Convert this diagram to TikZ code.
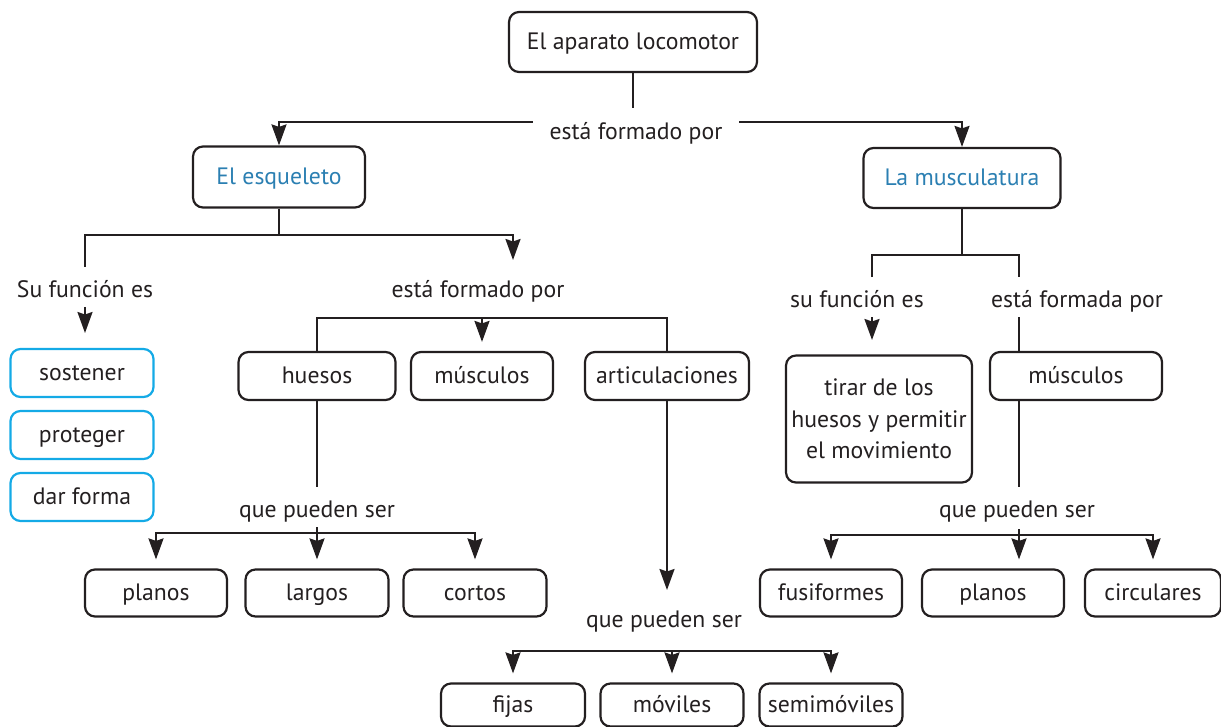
\documentclass[tikz,border=0pt]{standalone}
\usepackage{fontspec}
\setmainfont{PT Sans}
\usetikzlibrary{arrows.meta}

\definecolor{ink}{RGB}{35,31,32}
\definecolor{titleblue}{RGB}{43,127,178}
\definecolor{cyanline}{RGB}{20,170,230}

\begin{document}
\begin{tikzpicture}[x=0.02cm, y=-0.02cm,
    every node/.style={font=\fontsize{13.5}{16}\selectfont, text=ink},
    frame/.style={draw=ink, line width=1.25pt, rounded corners=0.2cm, inner sep=0pt},
    box/.style={frame, minimum height=0.96cm, text height=0.98em, text depth=0.12em},
    cbox/.style={box, draw=cyanline, minimum width=2.86cm},
    lbl/.style={inner xsep=9pt, inner ysep=3pt, text height=0.92em, text depth=0.16em},
    arr/.style={-{Stealth[length=4.2mm, width=3mm, inset=0.5mm]}},
    gap/.style={shorten >=0.18cm}]
    \useasboundingbox (0,0) rectangle (1221,727);
    \tikzset{every path/.style={draw=ink, line width=1.25pt}}

    % main boxes
    \node[box, minimum width=4.96cm, minimum height=1.2cm] (top) at (633,42) {El aparato locomotor};
    \node[lbl] (f1) at (636,133) {está formado por};
    \node[box, minimum width=3.44cm, minimum height=1.22cm, text=titleblue] (esq) at (279,177) {El esqueleto};
    \node[box, minimum width=3.94cm, minimum height=1.2cm, text=titleblue] (mus) at (962,178) {La musculatura};

    % skeleton side
    \node[lbl] (fun1) at (85,291) {Su función es};
    \node[lbl] (f2) at (478,291) {está formado por};
    \node[cbox] (sos) at (82,373) {sostener};
    \node[cbox] (pro) at (82,435) {proteger};
    \node[cbox] (dar) at (82,497) {dar forma};

    \node[box, minimum width=3.14cm] (hue) at (317,376) {huesos};
    \node[box, minimum width=2.84cm] (mu1) at (482,376) {músculos};
    \node[box, minimum width=3.28cm] (art) at (667,376) {articulaciones};

    \node[lbl] (q1) at (317,511) {que pueden ser};
    \node[box, minimum width=2.84cm, minimum height=0.94cm] (pla1) at (156,593) {planos};
    \node[box, minimum width=2.86cm, minimum height=0.94cm] (lar) at (317,593) {largos};
    \node[box, minimum width=2.86cm, minimum height=0.94cm] (cor) at (475,593) {cortos};

    \node[lbl] (q2) at (664,621) {que pueden ser};
    \node[box, minimum width=2.88cm, minimum height=0.86cm] (fij) at (513,705) {fijas};
    \node[box, minimum width=2.86cm, minimum height=0.86cm] (mov) at (672,705) {móviles};
    \node[box, minimum width=2.86cm, minimum height=0.86cm] (sem) at (831,705) {semimóviles};

    % muscle side
    \node[lbl] (fun2) at (857,301) {su función es};
    \node[lbl] (f3) at (1077,301) {está formada por};
    \node[frame, minimum width=3.72cm, minimum height=2.54cm, align=center,
          font=\fontsize{13.5}{18}\selectfont] (tir) at (879,419) {tirar de los\\huesos y permitir\\el movimiento};
    \node[box, minimum width=3.44cm] (mu2) at (1076,376) {músculos};

    \node[lbl] (q3) at (1017,511) {que pueden ser};
    \node[box, minimum width=2.84cm, minimum height=0.94cm] (fus) at (831,593) {fusiformes};
    \node[box, minimum width=2.84cm, minimum height=0.94cm] (pla2) at (993,593) {planos};
    \node[box, minimum width=2.72cm, minimum height=0.94cm] (cir) at (1153,593) {circulares};

    % coordinates
    \coordinate (r1) at (872,255);
    \coordinate (r2) at (1019,255);
    \coordinate (a2) at (513,260);

    % edges top
    \draw (top.south) -- (top.south |- 0,108);
    \draw[arr] (f1.west |- 0,122) -| (esq.north);
    \draw[arr] (f1.east |- 0,122) -| (mus.north);

    % edges skeleton
    \draw (esq.south) -- (esq.south |- 0,235) -| (85,267);
    \draw[arr] (esq.south |- 0,235) -| (a2);
    \draw[arr] (fun1.south) -- (fun1.south |- 0,333);
    \draw (hue.north) |- (art.north |- 0,318) -- (art.north);
    \draw[arr, gap] (mu1.north |- 0,318) -- (mu1.north);
    \draw (hue.south) -- (hue.south |- 0,487);
    \draw[arr, gap] (lar.north |- 0,533) -| (pla1.north);
    \draw[arr, gap] (lar.north |- 0,533) -| (cor.north);
    \draw[arr, gap] (lar.north |- 0,527) -- (lar.north);
    \draw[arr] (art.south) -- (art.south |- 0,590);
    \draw[arr, gap] (mov.north |- 0,651) -| (fij.north);
    \draw[arr, gap] (mov.north |- 0,651) -| (sem.north);
    \draw[arr, gap] (mov.north |- 0,651) -- (mov.north);

    % edges muscles
    \draw (mus.south) -- (mus.south |- r1);
    \draw (r1 |- 0,277) -- (r1) -- (r2) -- (r2 |- 0,277);
    \draw[arr] (r1 |- 0,317) -- (r1 |- 0,340);
    \draw (r2 |- 0,317) -- (r2 |- mu2.north);
    \draw (r2 |- mu2.south) -- (r2 |- 0,487);
    \draw[arr, gap] (r2 |- 0,535) -| (fus.north);
    \draw[arr, gap] (r2 |- 0,535) -| (cir.north);
    \draw[arr, gap] (r2 |- 0,529) -- (r2 |- pla2.north);
\end{tikzpicture}
\end{document}
